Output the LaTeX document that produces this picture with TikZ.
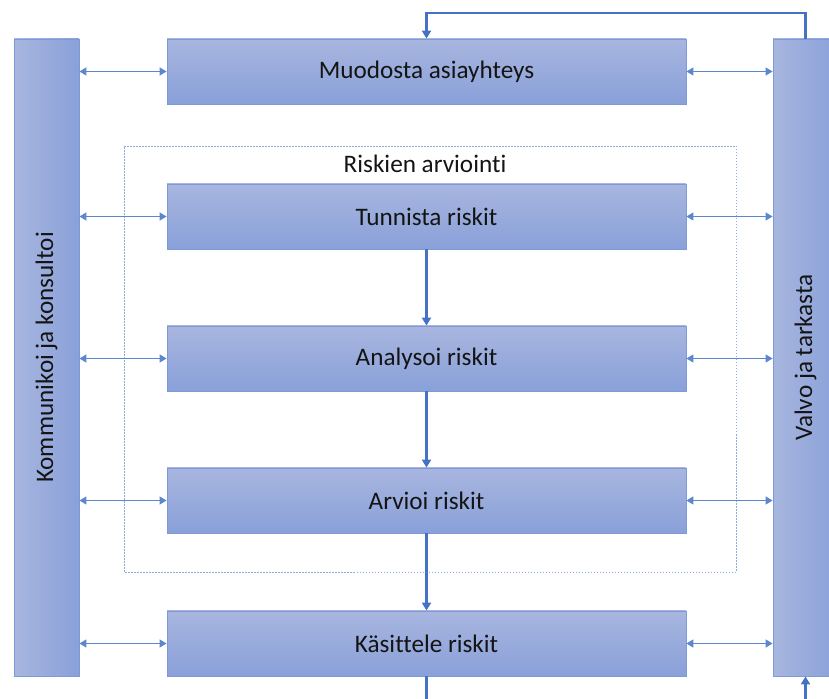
\documentclass[tikz,border=0pt]{standalone}
\usepackage{fontspec}
\setmainfont[Ligatures=NoCommon]{Carlito}
\usetikzlibrary{arrows.meta,calc}
\definecolor{boxlight}{RGB}{168,182,223}
\definecolor{boxdark}{RGB}{137,160,217}
\definecolor{boxedge}{RGB}{125,153,214}
\definecolor{flow}{RGB}{68,114,196}
\definecolor{link}{RGB}{92,135,207}
\definecolor{groupedge}{RGB}{143,170,220}
\definecolor{ink}{RGB}{20,20,20}
\newcommand{\labelfont}{\fontsize{25.2}{30}\selectfont}
\tikzset{
  stepbox/.style={draw=boxedge, line width=0.8pt, top color=boxlight, bottom color=boxdark,
    minimum width=519pt, minimum height=65pt, inner sep=0pt, text=ink, font=\labelfont},
  sidebar/.style={draw=boxedge, line width=0.8pt, left color=boxlight, right color=boxdark,
    minimum width=65pt, minimum height=637pt, inner sep=0pt},
  sidetext/.style={rotate=90, text=ink, font=\labelfont},
  flowline/.style={draw=flow, line width=2.4pt, -{Triangle[width=9pt,length=8pt]}},
  linkline/.style={draw=link, line width=1.1pt,
    {Triangle[width=8pt,length=7pt]}-{Triangle[width=8pt,length=7pt]}},
  groupbox/.style={draw=groupedge, line width=0.8pt, dash pattern=on 1.5pt off 1.5pt},
}
\begin{document}
\begin{tikzpicture}[x=1pt,y=1pt]
\useasboundingbox (0,0) rectangle (829,698);
\clip (0,0) rectangle (829,698);

% dotted frame of the assessment group
\draw[groupbox] (124,126) rectangle (736,552);
\node[text=ink, font=\labelfont] (grouplabel) at (425,534) {Riskien arviointi};

% side bars
\node[sidebar] (komm) at (46.5,340.5) {};
\node[sidetext] (kommtext) at (komm.center) {Kommunikoi ja konsultoi};
\node[sidebar] (valvo) at (805.5,340.5) {};
\node[sidetext] (valvotext) at (valvo.center) {Valvo ja tarkasta};

% process steps
\node[stepbox] (muod) at (426.5,626.5) {Muodosta asiayhteys};
\node[stepbox] (tunn) at (426.5,481.5) {Tunnista riskit};
\node[stepbox] (anal) at (426.5,339.5) {Analysoi riskit};
\node[stepbox] (arvi) at (426.5,197.5) {Arvioi riskit};
\node[stepbox] (kasi) at (426.5,54.5) {Käsittele riskit};

% main flow
\draw[flowline] (tunn.south) -- (anal.north);
\draw[flowline] (anal.south) -- (arvi.north);
\draw[flowline] (arvi.south) -- (kasi.north);

% feedback loop over the top
\coordinate (loopleft) at (426.5,685);
\draw[flowline] (valvo.north) |- (loopleft) -- (muod.north);

% loop under the bottom edge
\coordinate (downleft) at (426.5,-30);
\coordinate (downright) at (805.5,-30);
\draw[flowline] (kasi.south) -- (downleft) -- (downright) -- (valvo.south);

% two-way links to the side bars
\foreach \s in {muod,tunn,anal,arvi,kasi}{
  \draw[linkline] (komm.east |- \s.west) -- (\s.west);
  \draw[linkline] (\s.east) -- (valvo.west |- \s.east);
}
\end{tikzpicture}
\end{document}
